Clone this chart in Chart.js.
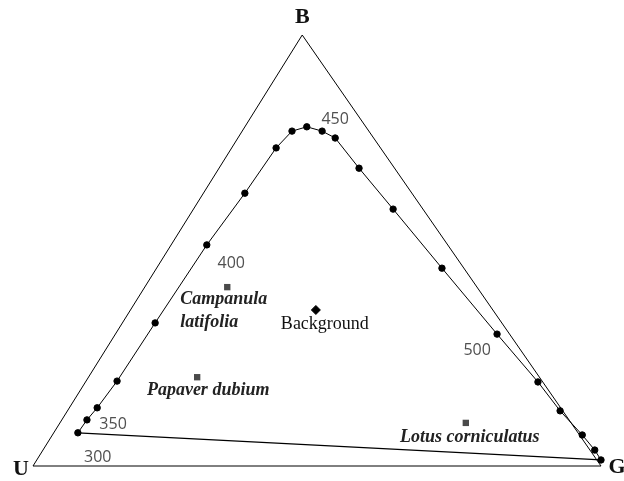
<!DOCTYPE html>
<html>
<head>
<meta charset="utf-8">
<title>Bee colour triangle</title>
<script src="https://cdn.jsdelivr.net/npm/chart.js@4/dist/chart.umd.min.js"></script>
<style>
  html, body { margin: 0; padding: 0; background: #fff; }
  #wrap { width: 624px; height: 481px; position: relative; }
</style>
</head>
<body>
<div id="wrap"><canvas id="tri"></canvas></div>
<script>
// triangle corners, x runs U -> G along the base, y runs base -> B
const cornerNames = ['U', 'B', 'G'];
const cornerX = [0, 0.474, 1];
const cornerY = [0, 1, 0];

// spectrum locus, short wavelengths first
const locusX = [0.079, 0.095, 0.113, 0.148, 0.215, 0.306, 0.373, 0.428, 0.456, 0.482, 0.509,
                0.532, 0.574, 0.634, 0.720, 0.817, 0.889, 0.928, 0.967, 0.989, 1.0];
const locusY = [0.077, 0.107, 0.135, 0.197, 0.332, 0.513, 0.633, 0.738, 0.777, 0.787, 0.777,
                0.761, 0.691, 0.596, 0.459, 0.306, 0.195, 0.128, 0.072, 0.037, 0.014];

// wavelength ticks along the locus (nm)
const nmLabels = ['300', '350', '400', '450', '500'];
const nmX = [0.114, 0.141, 0.349, 0.532, 0.782];
const nmY = [0.019, 0.097, 0.471, 0.805, 0.267];

// flower colours
const flowerNames = [['Campanula', 'latifolia'], ['Papaver dubium'], ['Lotus corniculatus']];
const flowerX = [0.342, 0.289, 0.762];
const flowerY = [0.415, 0.206, 0.100];

// background point
const bgName = 'Background';
const bgX = [0.498];
const bgY = [0.362];

const pts = (xs, ys) => xs.map((x, i) => ({x: x, y: ys[i]}));

const cornerPts = pts(cornerX, cornerY);
const locusPts = pts(locusX, locusY);

const labels = {
  id: 'labels',
  afterDatasetsDraw(chart) {
    const ctx = chart.ctx;
    const sx = chart.scales.x, sy = chart.scales.y;
    ctx.save();
    ctx.textBaseline = 'middle';

    // corner letters
    ctx.fillStyle = '#111';
    ctx.font = 'bold 22px "Liberation Serif", serif';
    ctx.textAlign = 'center';
    const cornerOff = [[-12, 3], [0, -18], [16, 1]];
    cornerNames.forEach((n, i) => {
      ctx.fillText(n, sx.getPixelForValue(cornerX[i]) + cornerOff[i][0],
                      sy.getPixelForValue(cornerY[i]) + cornerOff[i][1]);
    });

    // wavelengths
    ctx.fillStyle = '#505050';
    ctx.font = '16px "Open Sans", sans-serif';
    nmLabels.forEach((n, i) => {
      ctx.fillText(n, sx.getPixelForValue(nmX[i]), sy.getPixelForValue(nmY[i]));
    });

    // flower names
    ctx.fillStyle = '#222';
    ctx.font = 'bold italic 18px "Liberation Serif", serif';
    const px = flowerX.map(v => sx.getPixelForValue(v));
    const py = flowerY.map(v => sy.getPixelForValue(v));
    ctx.textAlign = 'left';
    ctx.fillText(flowerNames[0][0], px[0] - 47, py[0] + 12);
    ctx.fillText(flowerNames[0][1], px[0] - 47, py[0] + 35);
    ctx.textAlign = 'center';
    ctx.fillText(flowerNames[1][0], px[1] + 11, py[1] + 13);
    ctx.fillText(flowerNames[2][0], px[2] + 4, py[2] + 14);

    ctx.fillStyle = '#111';
    ctx.font = '18px "Liberation Serif", serif';
    ctx.fillText(bgName, sx.getPixelForValue(bgX[0]) + 9, sy.getPixelForValue(bgY[0]) + 14);
    ctx.restore();
  }
};

new Chart(document.getElementById('tri'), {
  type: 'scatter',
  data: {
    datasets: [
      {
        data: [...cornerPts, cornerPts[0]],
        showLine: true, borderColor: '#000', borderWidth: 1,
        pointRadius: 0, clip: false
      },
      {
        data: locusPts,
        showLine: true, borderColor: '#000', borderWidth: 1,
        pointRadius: 3.2, backgroundColor: '#000',
        pointBorderColor: '#000', clip: false
      },
      {
        // closes the locus back to the UV end
        data: [locusPts[locusPts.length - 1], locusPts[0]],
        showLine: true, borderColor: '#000', borderWidth: 1.2,
        pointRadius: 0, clip: false
      },
      {
        data: pts(flowerX, flowerY),
        pointStyle: 'rect', pointRadius: 4.5, borderWidth: 0,
        backgroundColor: '#4a4a4a', borderColor: '#4a4a4a', clip: false
      },
      {
        data: pts(bgX, bgY),
        pointStyle: 'rectRot', pointRadius: 4.5,
        backgroundColor: '#000', borderColor: '#000', clip: false
      }
    ]
  },
  options: {
    responsive: true,
    maintainAspectRatio: false,
    animation: false,
    layout: { padding: { left: 33, right: 23, top: 35, bottom: 15 } },
    scales: {
      x: { type: 'linear', min: 0, max: 1, display: false },
      y: { type: 'linear', min: 0, max: 1, display: false }
    },
    plugins: { legend: { display: false }, tooltip: { enabled: false } }
  },
  plugins: [labels]
});
</script>
</body>
</html>
